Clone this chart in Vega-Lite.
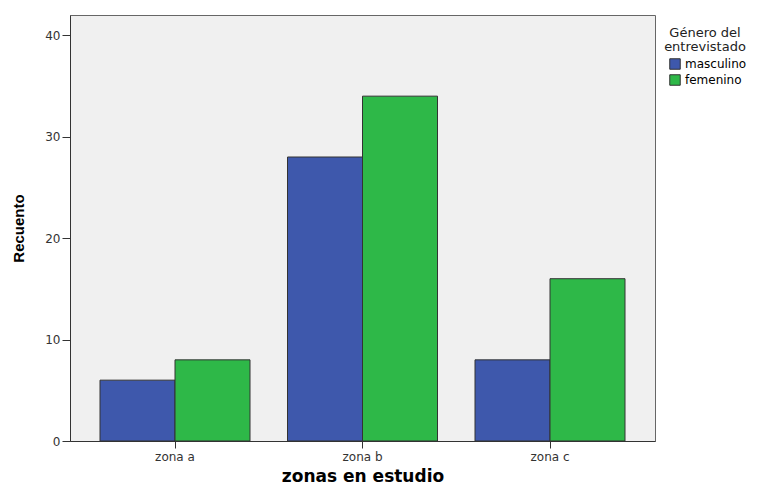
{
  "$schema": "https://vega.github.io/schema/vega-lite/v6.json",
  "autosize": {"type": "none"},
  "width": 585,
  "height": 426,
  "padding": {"left": 70, "top": 15, "right": 107, "bottom": 45},
  "background": "white",
  "config": {
    "view": {"fill": "#f0f0f0", "stroke": "#666666", "strokeWidth": 1},
    "font": "DejaVu Sans"
  },
  "data": {
    "values": [
      {"zona": "zona a", "genero": "masculino", "recuento": 6},
      {"zona": "zona a", "genero": "femenino", "recuento": 8},
      {"zona": "zona b", "genero": "masculino", "recuento": 28},
      {"zona": "zona b", "genero": "femenino", "recuento": 34},
      {"zona": "zona c", "genero": "masculino", "recuento": 8},
      {"zona": "zona c", "genero": "femenino", "recuento": 16}
    ]
  },
  "mark": {"type": "bar", "stroke": "#333333", "strokeWidth": 1},
  "encoding": {
    "x": {
      "field": "zona",
      "type": "nominal",
      "scale": {"paddingInner": 0.2, "paddingOuter": 0.16},
      "axis": {
        "title": "zonas en estudio",
        "titleFont": "DejaVu Sans",
        "titleFontSize": 17,
        "titleFontWeight": "bold",
        "titleColor": "#000000",
        "titlePadding": 6,
        "labelAngle": 0,
        "labelFont": "DejaVu Sans",
        "labelFontSize": 12,
        "labelColor": "#333333",
        "labelPadding": 3,
        "tickSize": 7,
        "tickColor": "#333333",
        "domainColor": "#333333",
        "grid": false
      }
    },
    "xOffset": {"field": "genero", "type": "nominal", "sort": ["masculino", "femenino"]},
    "y": {
      "field": "recuento",
      "type": "quantitative",
      "scale": {"domain": [0, 42], "nice": false},
      "axis": {
        "title": "Recuento",
        "titleFont": "Liberation Sans",
        "titleFontSize": 15,
        "titleFontWeight": "bold",
        "titleColor": "#000000",
        "titlePadding": 18,
        "values": [0, 10, 20, 30, 40],
        "labelFont": "DejaVu Sans",
        "labelFontSize": 12,
        "labelColor": "#333333",
        "labelPadding": 2,
        "tickSize": 8,
        "tickColor": "#333333",
        "domainColor": "#333333",
        "grid": false
      }
    },
    "color": {
      "field": "genero",
      "type": "nominal",
      "sort": ["masculino", "femenino"],
      "scale": {"domain": ["masculino", "femenino"], "range": ["#3e58ac", "#2eb848"]},
      "legend": {
        "title": ["Género del", "entrevistado"],
        "titleFont": "DejaVu Sans",
        "titleFontSize": 13,
        "titleFontWeight": "normal",
        "titleColor": "#222222",
        "titleAnchor": "middle",
        "titleLineHeight": 14,
        "titlePadding": 4,
        "labelFont": "DejaVu Sans",
        "labelFontSize": 12,
        "labelColor": "#000000",
        "labelOffset": 4,
        "symbolType": "square",
        "symbolSize": 110,
        "symbolStrokeColor": "#333333",
        "symbolStrokeWidth": 1,
        "symbolOffset": 6,
        "rowPadding": 0,
        "orient": "none",
        "legendX": 593,
        "legendY": 12
      }
    }
  }
}
